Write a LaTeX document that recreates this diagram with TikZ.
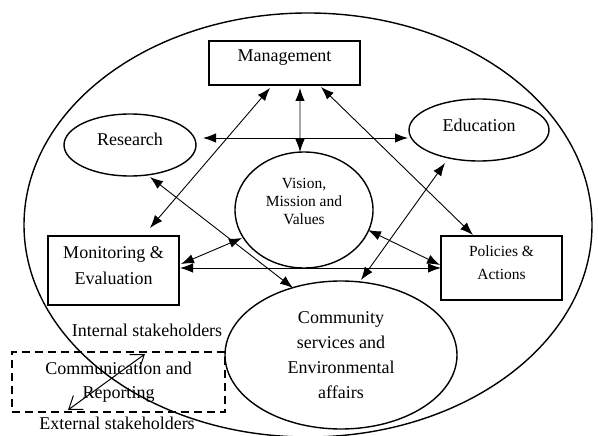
\documentclass[tikz,border=0pt]{standalone}
\usepackage{fontspec}
\setmainfont{Liberation Serif}
\usetikzlibrary{arrows.meta,calc,shapes.geometric}
\begin{document}
\begin{tikzpicture}[x=1bp,y=-1bp,
  box/.style={draw,line width=1.4bp,rectangle,inner sep=0pt,outer sep=0pt},
  oval/.style={draw,line width=1.4bp,ellipse,inner sep=0pt,outer sep=0pt},
  txt/.style={font=\fontsize{18bp}{26bp}\selectfont,align=center,inner sep=0pt},
  stxt/.style={font=\fontsize{15.5bp}{18bp}\selectfont,align=center,inner sep=0pt},
  link/.style={line width=0.9bp,{Latex[length=13bp,width=9.5bp]}-{Latex[length=13bp,width=9.5bp]}},
  barb/.style={line width=1bp,{Straight Barb[length=12bp,width=17bp]}-{Straight Barb[length=12bp,width=17bp]}}
]
\useasboundingbox (0,0) rectangle (598,436);
% outer boundary
\node[oval,minimum width=568bp,minimum height=424bp] (outer) at (308,225) {};
% nodes
\node[box,minimum width=151bp,minimum height=44bp,
  label={[txt,yshift=5bp]center:Management}] (mgmt) at (284.5,63) {};
\node[oval,minimum width=132bp,minimum height=62bp,
  label={[txt,yshift=6bp]center:Research}] (res) at (130,145) {};
\node[oval,minimum width=140bp,minimum height=62bp,
  label={[txt,yshift=5bp]center:Education}] (edu) at (479,130) {};
\node[oval,minimum width=138bp,minimum height=116bp,
  label={[stxt,yshift=9bp]center:{Vision,\\Mission and\\Values}}] (vis) at (304,210) {};
\node[box,minimum width=131bp,minimum height=69bp,
  label={[txt,yshift=4.5bp]center:{Monitoring \&\\Evaluation}}] (mon) at (113.5,270.5) {};
\node[box,minimum width=121bp,minimum height=64bp,
  label={[stxt,font=\fontsize{15.5bp}{23bp}\selectfont,yshift=5.5bp]center:{Policies \&\\Actions}}] (pol) at (501.5,268) {};
\node[oval,minimum width=232bp,minimum height=148bp,
  label={[txt,font=\fontsize{18bp}{25bp}\selectfont]center:{Community\\services and\\Environmental\\affairs}}] (com) at (341,355) {};
\node[draw,line width=1.2bp,dash pattern=on 8bp off 5bp,rectangle,inner sep=0pt,outer sep=0pt,
  minimum width=213bp,minimum height=60bp,
  label={[txt,font=\fontsize{18bp}{24bp}\selectfont]center:{Communication and\\Reporting}}] (cr) at (118.5,382) {};
\node[txt] (int) at (147,330) {Internal stakeholders};
\node[txt] (ext) at (117,423) {External stakeholders};
% connectors
\draw[link] ($(mgmt.south)+(15.5,3)$) -- ($(vis.north)+(-4,0)$);
\draw[link] ($(res.east)+(7,-7)$) -- ($(edu.west)+(-1,8)$);
\draw[link] ($(mgmt.south)+(-14.5,3)$) -- ($(mon.north)+(36.5,-8)$);
\draw[link] ($(mgmt.south)+(36.5,2)$) -- ($(pol.north)+(-28.5,-1)$);
\draw[link] ($(res.south)+(20,1)$) -- ($(com.north)+(-48,7)$);
\draw[link] ($(edu.south)+(-34,2)$) -- ($(com.north)+(20,-1)$);
\draw[link] ($(mon.east)+(2,-6.5)$) -- ($(vis.west)+(7,28)$);
\draw[link] ($(mon.east)+(1,-2.5)$) -- (pol.west);
\draw[link] ($(vis.east)+(-5,20)$) -- ($(pol.west)+(-1,-3)$);
\draw[barb] ($(cr.south west)+(56,-2)$) -- ($(cr.north west)+(133,2)$);
\end{tikzpicture}
\end{document}
